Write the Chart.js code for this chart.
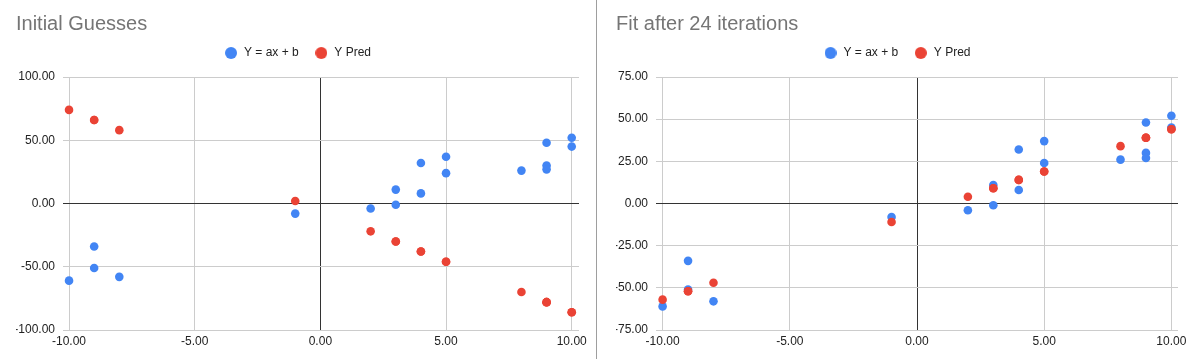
<!DOCTYPE html>
<html><head><meta charset="utf-8">
<script src="https://cdn.jsdelivr.net/npm/chart.js@4/dist/chart.umd.min.js"></script>
<style>
html,body{margin:0;padding:0;background:#fff;}
#wrap{display:flex;width:1193px;height:359px;}
.panel{position:relative;width:596px;height:359px;}
.divider{width:1px;height:359px;background:#9e9e9e;}
canvas{display:block;}
</style></head><body>
<div id="wrap">
<div class="panel"><canvas id="c1" width="596" height="359"></canvas></div>
<div class="divider"></div>
<div class="panel"><canvas id="c2" width="596" height="359"></canvas></div>
</div>
<script>
// ---- data ----
const xValues      = [-10, -9, -9, -8, -1, 2, 3, 3, 4, 4, 5, 5, 8, 9, 9, 9, 10, 10];
const yActual      = [-61, -34, -51, -58, -8, -4, 11, -1, 32, 8, 37, 24, 26, 48, 30, 27, 52, 45];
const yPredInitial = [74, 66, 66, 58, 2, -22, -30, -30, -38, -38, -46, -46, -70, -78, -78, -78, -86, -86];
const yPredFit     = [-57, -52, -52, -47, -11, 4, 9, 9, 14, 14, 19, 19, 34, 39, 39, 39, 44, 44];
const xTicks       = [-10, -5, 0, 5, 10];
const yTicksLeft   = [-100, -50, 0, 50, 100];
const yTicksRight  = [-75, -50, -25, 0, 25, 50, 75];
const seriesNames  = ['Y = ax + b', 'Y Pred'];
const chartTitles  = ['Initial Guesses', 'Fit after 24 iterations'];

const BLUE = '#4285f4', RED = '#ea4335';
const FONT = '"Liberation Sans", Arial, sans-serif';

function circleImg(color) {
  const c = document.createElement('canvas');
  c.width = 12; c.height = 12;
  const g = c.getContext('2d');
  g.fillStyle = color;
  g.beginPath(); g.arc(6, 6, 6, 0, Math.PI * 2); g.fill();
  return c;
}
const legendImgs = [circleImg(BLUE), circleImg(RED)];

const LEGEND_H = 45.6;
const legendFix = {
  id: 'legendFix',
  afterInit(chart) {
    const lg = chart.legend;
    if (!lg) return;
    const orig = lg.fit;
    lg.fit = function () { orig.call(this); this.height = LEGEND_H; };
  }
};

function toPoints(ys) { return xValues.map((x, i) => ({x: x, y: ys[i]})); }

function makeChart(id, title, pred, yTicks, lay) {
  const gridColor = c => (c.tick && c.tick.value === 0) ? '#333333' : '#cccccc';
  return new Chart(document.getElementById(id), {
    type: 'scatter',
    data: {
      datasets: [
        {label: seriesNames[1], data: toPoints(pred), backgroundColor: RED, borderColor: RED,
         pointRadius: 4.3, pointHoverRadius: 4.3, pointBorderWidth: 0, order: 0},
        {label: seriesNames[0], data: toPoints(yActual), backgroundColor: BLUE, borderColor: BLUE,
         pointRadius: 4.3, pointHoverRadius: 4.3, pointBorderWidth: 0, order: 1}
      ]
    },
    options: {
      responsive: false,
      animation: false,
      devicePixelRatio: 1,
      layout: {padding: {left: lay.padL, right: lay.padR, top: 0, bottom: 0}},
      plugins: {
        tooltip: {enabled: false},
        title: {
          display: true, text: title, align: 'start', color: '#757575',
          font: {family: FONT, size: 20, weight: 'normal', lineHeight: 1.2},
          padding: {top: 12, bottom: -4.6}
        },
        legend: {
          display: true, position: 'top', align: 'center',
          labels: {
            usePointStyle: true, pointStyleWidth: 14, boxHeight: 12,
            padding: 15.6, color: '#222222',
            font: {family: FONT, size: 12},
            generateLabels(chart) {
              const items = Chart.defaults.plugins.legend.labels.generateLabels(chart);
              items.sort((a, b) => b.datasetIndex - a.datasetIndex);
              items.forEach(it => { it.pointStyle = it.datasetIndex === 1 ? legendImgs[0] : legendImgs[1]; it.lineWidth = 0; });
              return items;
            }
          }
        }
      },
      scales: {
        x: {
          type: 'linear', position: 'bottom', min: lay.xMin, max: lay.xMax,
          afterBuildTicks: s => { s.ticks = xTicks.map(v => ({value: v})); },
          afterFit: s => { s.height = 29; },
          border: {display: false},
          grid: {color: gridColor, lineWidth: 1, drawTicks: false},
          ticks: {color: '#222222', padding: 4, font: {family: FONT, size: 12},
                  maxRotation: 0, autoSkip: false,
                  callback: v => Number(v).toFixed(2)}
        },
        y: {
          type: 'linear', min: yTicks[0], max: yTicks[yTicks.length - 1],
          afterBuildTicks: s => { s.ticks = yTicks.map(v => ({value: v})); },
          afterFit: s => { s.width = lay.yW; },
          border: {display: false},
          grid: {color: gridColor, lineWidth: 1, drawTicks: false},
          ticks: {color: '#222222', padding: 8, font: {family: FONT, size: 12},
                  autoSkip: false, callback: v => Number(v).toFixed(2)}
        }
      }
    },
    plugins: [legendFix]
  });
}

makeChart('c1', chartTitles[0], yPredInitial, yTicksLeft,
  {padL: 16, padR: 17, yW: 47, xMin: -10.24, xMax: 10.29});
makeChart('c2', chartTitles[1], yPredFit, yTicksRight,
  {padL: 19, padR: 15, yW: 40, xMin: -10.26, xMax: 10.26});
</script>
</body></html>
